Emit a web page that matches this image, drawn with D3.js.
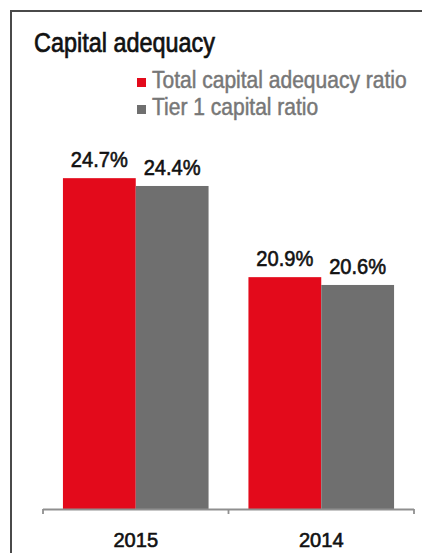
<!DOCTYPE html>
<html>
<head>
<meta charset="utf-8">
<script src="https://cdn.jsdelivr.net/npm/d3@7"></script>
<style>
  html, body { margin: 0; padding: 0; background: #fff; }
  svg { display: block; }
</style>
</head>
<body>
<svg id="chart" width="422" height="553"></svg>
<script>
// Capital ratios by year
const years = ["2015", "2014"];
const seriesNames = ["Total capital adequacy ratio", "Tier 1 capital ratio"];
const totalCapital = [24.7, 20.9];
const tier1Capital = [24.4, 20.6];
const seriesColors = ["#e30a1b", "#6f6f6f"];

const rows = years.map((y, i) => ({ year: y, values: [totalCapital[i], tier1Capital[i]] }));

const svg = d3.select("#chart");
const sans = "'Liberation Sans', Arial, sans-serif";

// Condensed, medium-weight text: horizontally squeezed and lightly stroked
function label(sel, x, y, txt, opts) {
  return sel.append("text")
    .attr("transform", `translate(${x},${y}) scale(${opts.sx},1)`)
    .attr("text-anchor", opts.anchor || "start")
    .attr("font-family", sans)
    .attr("font-size", opts.size)
    .attr("fill", opts.color)
    .attr("stroke", opts.color)
    .attr("stroke-width", opts.weight)
    .text(txt);
}

// Panel frame (open to the right and bottom)
svg.append("path")
  .attr("d", "M11,560 L11,11 L430,11")
  .attr("fill", "none")
  .attr("stroke", "#4a4a4a")
  .attr("stroke-width", 2);

// Title
label(svg, 34, 52, "Capital adequacy", { size: 27, sx: 0.868, color: "#111", weight: 0.7 });

// Legend
const legend = svg.append("g");
seriesNames.forEach((name, i) => {
  const yb = 88 + i * 27;
  legend.append("rect")
    .attr("x", 137).attr("y", yb - 10)
    .attr("width", 9).attr("height", 9)
    .attr("fill", seriesColors[i]);
  label(legend, 152, yb, name, { size: 24, sx: 0.876, color: "#777", weight: 0.5 });
});

// Scales
const baseY = 509;
const x0 = d3.scaleBand()
  .domain(years)
  .range([43, 414])
  .paddingInner(0.215)
  .paddingOuter(0.1075);

const x1 = d3.scaleBand()
  .domain(d3.range(seriesNames.length))
  .range([0, x0.bandwidth()]);

const y = d3.scaleLinear()
  .domain([12, 30])
  .range([baseY, baseY - 18 * 26.05]);

// Bars
const groups = svg.append("g").selectAll("g")
  .data(rows)
  .join("g")
  .attr("transform", d => `translate(${x0(d.year)},0)`);

groups.selectAll("rect")
  .data(d => d.values.map((v, i) => ({ v, i })))
  .join("rect")
  .attr("x", d => x1(d.i))
  .attr("width", x1.bandwidth())
  .attr("y", d => y(d.v))
  .attr("height", d => baseY - y(d.v))
  .attr("fill", d => seriesColors[d.i]);

groups.each(function (d) {
  const g = d3.select(this);
  d.values.forEach((v, i) => {
    label(g, x1(i) + x1.bandwidth() / 2, y(v) - 11, d3.format(".1f")(v) + "%",
      { size: 22, sx: 0.914, color: "#111", weight: 0.6, anchor: "middle" });
  });
});

// Category axis with ticks at group boundaries
const axis = svg.append("g").attr("stroke", "#8f8f8f").attr("stroke-width", 1.8);
const [r0, r1] = x0.range();
axis.append("line")
  .attr("x1", r0).attr("x2", r1)
  .attr("y1", baseY + 0.5).attr("y2", baseY + 0.5);
const bounds = years.map((_, i) => r0 + i * (r1 - r0) / years.length).concat([r1]);
axis.selectAll("line.tick")
  .data(bounds)
  .join("line")
  .attr("class", "tick")
  .attr("x1", d => d).attr("x2", d => d)
  .attr("y1", baseY).attr("y2", baseY + 5);

const yearLabels = svg.append("g");
years.forEach(yr => {
  label(yearLabels, x0(yr) + x0.bandwidth() / 2, 547, yr,
    { size: 20.5, sx: 0.98, color: "#111", weight: 0.6, anchor: "middle" });
});
</script>
</body>
</html>
